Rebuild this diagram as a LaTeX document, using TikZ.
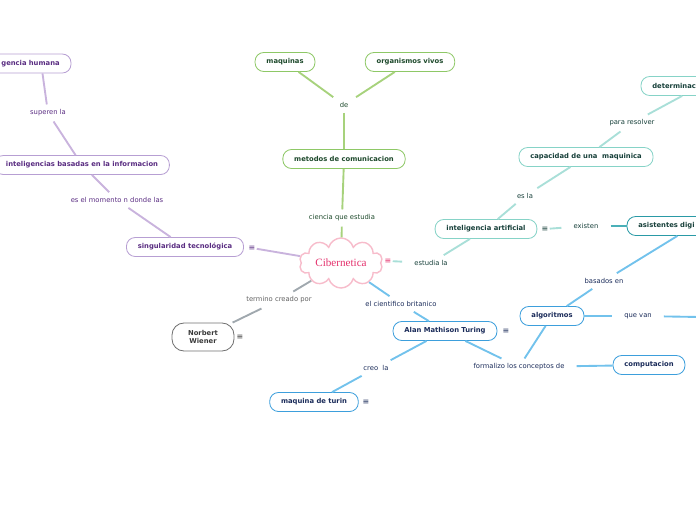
\documentclass[tikz,border=0pt]{standalone}
\usepackage{fontspec}
\setmainfont{DejaVu Sans}
\newfontfamily\cloudfont{Liberation Serif}
\usetikzlibrary{shapes.symbols}

% branch colours
\definecolor{purpline}{HTML}{C9B3DD}
\definecolor{purpbox}{HTML}{B79FD3}
\definecolor{purptxt}{HTML}{5A2D82}
\definecolor{greenline}{HTML}{A7D27C}
\definecolor{greenbox}{HTML}{8EC866}
\definecolor{greentxt}{HTML}{1E4A2C}
\definecolor{tealline}{HTML}{A9DFD8}
\definecolor{tealbox}{HTML}{86D3C7}
\definecolor{tealtxt}{HTML}{17403A}
\definecolor{asisbox}{HTML}{2A9AA6}
\definecolor{asisline}{HTML}{4AB0B8}
\definecolor{blueline}{HTML}{72C2EC}
\definecolor{bluebox}{HTML}{3D9FDC}
\definecolor{bluetxt}{HTML}{1B2C5A}
\definecolor{grayline}{HTML}{A0A8AE}
\definecolor{graybox}{HTML}{707070}
\definecolor{graytxt}{HTML}{3A3A3A}
\definecolor{cloudline}{HTML}{F7BCCB}
\definecolor{cloudtxt}{HTML}{E4306C}

\begin{document}
\begin{tikzpicture}[x=0.03cm, y=-0.03cm,
    topic/.style={draw, rounded corners=0.26cm, line width=0.7pt, fill=white,
        minimum height=0.57cm, inner xsep=0.34cm, inner ysep=0pt,
        font=\fontsize{5.8}{7}\selectfont\bfseries},
    lbl/.style={inner xsep=0.36cm, inner ysep=0.15cm, font=\fontsize{5.8}{7}\selectfont},
    link/.style={line width=1.6pt},
    menu/.style={inner sep=1pt, font=\fontsize{6.8}{7}\selectfont}]

    \useasboundingbox (0,0) rectangle (696,520);
    \clip (0,0) rectangle (696,520);

    % Central topic
    \node[cloud, cloud puffs=10, aspect=2.1, draw=cloudline, line width=1.2pt, fill=white,
        minimum width=2.5cm, minimum height=1.35cm, inner sep=0pt,
        font=\cloudfont\fontsize{9.5}{9.5}\selectfont, text=cloudtxt] (ciber) at (341,263) {Cibernetica};
    \node[menu, text=cloudtxt] (cibmenu) at (388,261) {≡};

    % Purple branch
    \node[topic, draw=purpbox, text=purptxt, text width=3.25cm, align=right] (humana) at (5.5,63.5) {gencia humana};
    \node[lbl, text=purptxt] (superen) at (48,113) {superen la};
    \node[topic, draw=purpbox, text=purptxt] (basadas) at (82,165) {inteligencias basadas en la informacion};
    \node[lbl, text=purptxt] (momento) at (117,200) {es el momento n donde las};
    \node[topic, draw=purpbox, text=purptxt] (singular) at (185,247) {singularidad tecnológica};
    \node[menu, text=purptxt] (singmenu) at (252,248) {≡};

    \draw[link, purpline] (humana.-15) -- (superen);
    \draw[link, purpline] (superen) -- (basadas);
    \draw[link, purpline] (basadas) -- (momento);
    \draw[link, purpline] (momento) -- (singular);
    \draw[link, purpline] (singmenu) -- (ciber);

    % Green branch
    \node[topic, draw=greenbox, text=greentxt] (maquinas) at (285,62) {maquinas};
    \node[topic, draw=greenbox, text=greentxt] (organismos) at (410,62) {organismos vivos};
    \node[lbl, text=greentxt] (de) at (344,105) {de};
    \node[topic, draw=greenbox, text=greentxt] (metodos) at (344,159) {metodos de comunicacion};
    \node[lbl, text=greentxt] (ciencia) at (342,218) {ciencia que estudia};

    \draw[link, greenline] (maquinas) -- (de);
    \draw[link, greenline] (organismos) -- (de);
    \draw[link, greenline] (de) -- (metodos);
    \draw[link, greenline] (metodos) -- (ciencia);
    \draw[link, greenline] (ciencia) -- (ciber);

    % Teal branch
    \node[lbl, text=tealtxt] (estudia) at (431,263) {estudia la};
    \node[topic, draw=tealbox, text=tealtxt] (ia) at (486,229) {inteligencia artificial};
    \node[menu, text=tealtxt] (iamenu) at (545,229) {≡};
    \node[lbl, text=tealtxt] (esla) at (525,196) {es la};
    \node[topic, draw=tealbox, text=tealtxt] (capacidad) at (586,157) {capacidad de una \ maquinica};
    \node[lbl, text=tealtxt] (resolver) at (632,123) {para resolver};
    \node[topic, draw=tealbox, text=tealtxt, text width=2.89cm, align=left] (determ) at (700.5,86) {determinac};
    \node[lbl, text=tealtxt] (existen) at (586,226) {existen};
    \node[topic, draw=asisbox, text=tealtxt, text width=3.31cm, align=left] (asistentes) at (693.5,226) {asistentes digi};

    \draw[link, tealline] (cibmenu) -- (estudia);
    \draw[link, tealline] (estudia) -- (ia);
    \draw[link, tealline] (ia) -- (esla);
    \draw[link, tealline] (esla) -- (capacidad);
    \draw[link, tealline] (capacidad) -- (resolver);
    \draw[link, tealline] (resolver) -- (determ);
    \draw[link, tealline] (iamenu) -- (existen);
    \draw[link, asisline] (existen) -- (asistentes);

    % Blue branch
    \node[lbl, text=bluetxt] (britanico) at (401,304) {el cientifico britanico};
    \node[topic, draw=bluebox, text=bluetxt] (turing) at (445,331) {Alan Mathison Turing};
    \node[menu, text=bluetxt] (turingmenu) at (506,331) {≡};
    \node[lbl, text=bluetxt] (creo) at (376,368) {creo \ la};
    \node[topic, draw=bluebox, text=bluetxt] (turin) at (314,402) {maquina de turin};
    \node[menu, text=bluetxt] (turinmenu) at (366,402) {≡};
    \node[lbl, text=bluetxt] (formalizo) at (519,367) {formalizo los conceptos de};
    \node[topic, draw=bluebox, text=bluetxt] (algoritmos) at (552,316) {algoritmos};
    \node[topic, draw=bluebox, text=bluetxt] (computacion) at (649,365) {computacion};
    \node[lbl, text=bluetxt] (basados) at (604,281) {basados en};
    \node[lbl, text=bluetxt] (quevan) at (638,316) {que van};
    \coordinate (quevanend) at (700,317);

    \draw[link, blueline] (ciber) -- (britanico);
    \draw[link, blueline] (britanico) -- (turing);
    \draw[link, blueline] (turing) -- (creo);
    \draw[link, blueline] (creo) -- (turin);
    \draw[link, blueline] (turing) -- (formalizo);
    \draw[link, blueline] (formalizo) -- (algoritmos);
    \draw[link, blueline] (formalizo) -- (computacion);
    \draw[link, blueline] (algoritmos) -- (basados);
    \draw[link, blueline] (basados) -- (asistentes);
    \draw[link, blueline] (algoritmos) -- (quevan);
    \draw[link, blueline] (quevan) -- (quevanend);

    % Gray branch
    \node[lbl, text=graytxt!80] (termino) at (279,300) {termino creado por};
    \node[topic, draw=graybox, text=graytxt, align=center, rounded corners=0.36cm,
        minimum height=0.84cm, minimum width=1.86cm] (wiener) at (203,337) {Norbert\\Wiener};
    \node[menu, text=graytxt] (wienermenu) at (240,337) {≡};

    \draw[link, grayline] (ciber) -- (termino);
    \draw[link, grayline] (termino) -- (wiener);
\end{tikzpicture}
\end{document}
